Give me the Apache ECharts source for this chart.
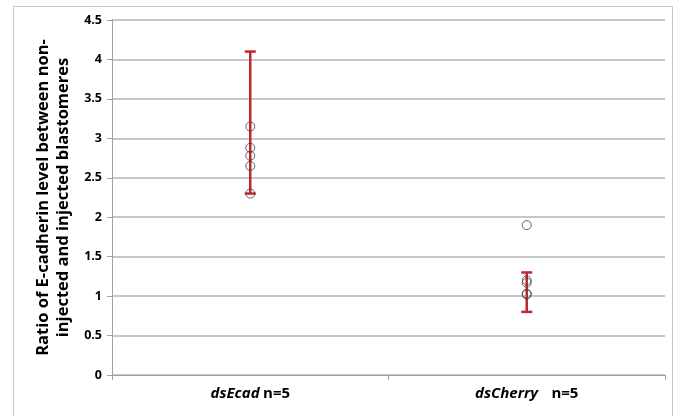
<!DOCTYPE html>
<html><head><meta charset="utf-8">
<script src="https://cdn.jsdelivr.net/npm/echarts@6/dist/echarts.min.js"></script>
<style>html,body{margin:0;padding:0;background:#fff}#c{width:678px;height:416px}</style>
</head><body><div id="c"></div>
<script>
var categories = ['dsEcad', 'dsCherry'];
var catLabels = ['{i|dsEcad} {b|n=5}', '{i|dsCherry}    {b|n=5}'];
var ecadValues = [3.15, 2.88, 2.78, 2.65, 2.3];
var cherryValues = [1.9, 1.2, 1.17, 1.03, 1.02];
var errLow = [2.3, 0.8];
var errHigh = [4.1, 1.3];
var yTicks = [0, 0.5, 1, 1.5, 2, 2.5, 3, 3.5, 4, 4.5];

var pts = [];
ecadValues.forEach(function(v){ pts.push([categories[0], v]); });
cherryValues.forEach(function(v){ pts.push([categories[1], v]); });
var errData = categories.map(function(c, i){ return [i, errLow[i], errHigh[i]]; });

var chart = echarts.init(document.getElementById('c'));
chart.setOption({
  animation: false,
  graphic: [{type:'rect', shape:{x:13.5, y:6.5, width:659, height:420}, style:{fill:'none', stroke:'#c8c8c8', lineWidth:1}, silent:true}],
  grid: {left:112, right:13, top:20, bottom:41},
  xAxis: {
    type:'category', data: categories, boundaryGap:true,
    axisLine:{lineStyle:{color:'#a0a0a0', width:1}},
    axisTick:{show:true, length:5, alignWithLabel:false, lineStyle:{color:'#a0a0a0'}},
    axisLabel:{
      margin:11,
      formatter:function(v, i){ return catLabels[i]; },
      rich:{
        i:{fontFamily:'Open Sans', fontWeight:'bold', fontStyle:'italic', fontSize:15, color:'#000'},
        b:{fontFamily:'Open Sans', fontWeight:'bold', fontSize:15, color:'#000'}
      }
    },
    splitLine:{show:false}
  },
  yAxis: {
    type:'value', min:0, max:4.5, interval:0.5,
    name:'Ratio of E-cadherin level between non-\ninjected and injected blastomeres',
    nameLocation:'middle', nameGap:32,
    nameTextStyle:{fontFamily:'Open Sans', fontWeight:'bold', fontSize:16.5, color:'#000', lineHeight:20},
    axisLine:{show:true, lineStyle:{color:'#a0a0a0'}},
    axisTick:{show:true, length:5, lineStyle:{color:'#a0a0a0'}},
    axisLabel:{fontFamily:'Open Sans', fontWeight:'bold', fontSize:12.5, color:'#000', margin:10,
      formatter:function(v){ return yTicks.indexOf(v) >= 0 ? String(v) : ''; }},
    splitLine:{lineStyle:{color:'#b4b4b4', width:1.5}}
  },
  series: [
    {
      type:'custom', data: errData, z:2,
      renderItem:function(params, api){
        var x = api.value(0);
        var lo = api.coord([x, api.value(1)]);
        var hi = api.coord([x, api.value(2)]);
        var w = 5.5;
        var st = {stroke:'#c1272d', lineWidth:2.5};
        return {type:'group', children:[
          {type:'line', shape:{x1:lo[0], y1:lo[1], x2:hi[0], y2:hi[1]}, style:st},
          {type:'line', shape:{x1:hi[0]-w, y1:hi[1], x2:hi[0]+w, y2:hi[1]}, style:st},
          {type:'line', shape:{x1:lo[0]-w, y1:lo[1], x2:lo[0]+w, y2:lo[1]}, style:st}
        ]};
      }
    },
    {
      type:'scatter', data: pts, symbol:'circle', symbolSize:9, z:3,
      itemStyle:{color:'rgba(255,255,255,0)', borderColor:'#404040', borderWidth:1}
    }
  ]
});
</script></body></html>
